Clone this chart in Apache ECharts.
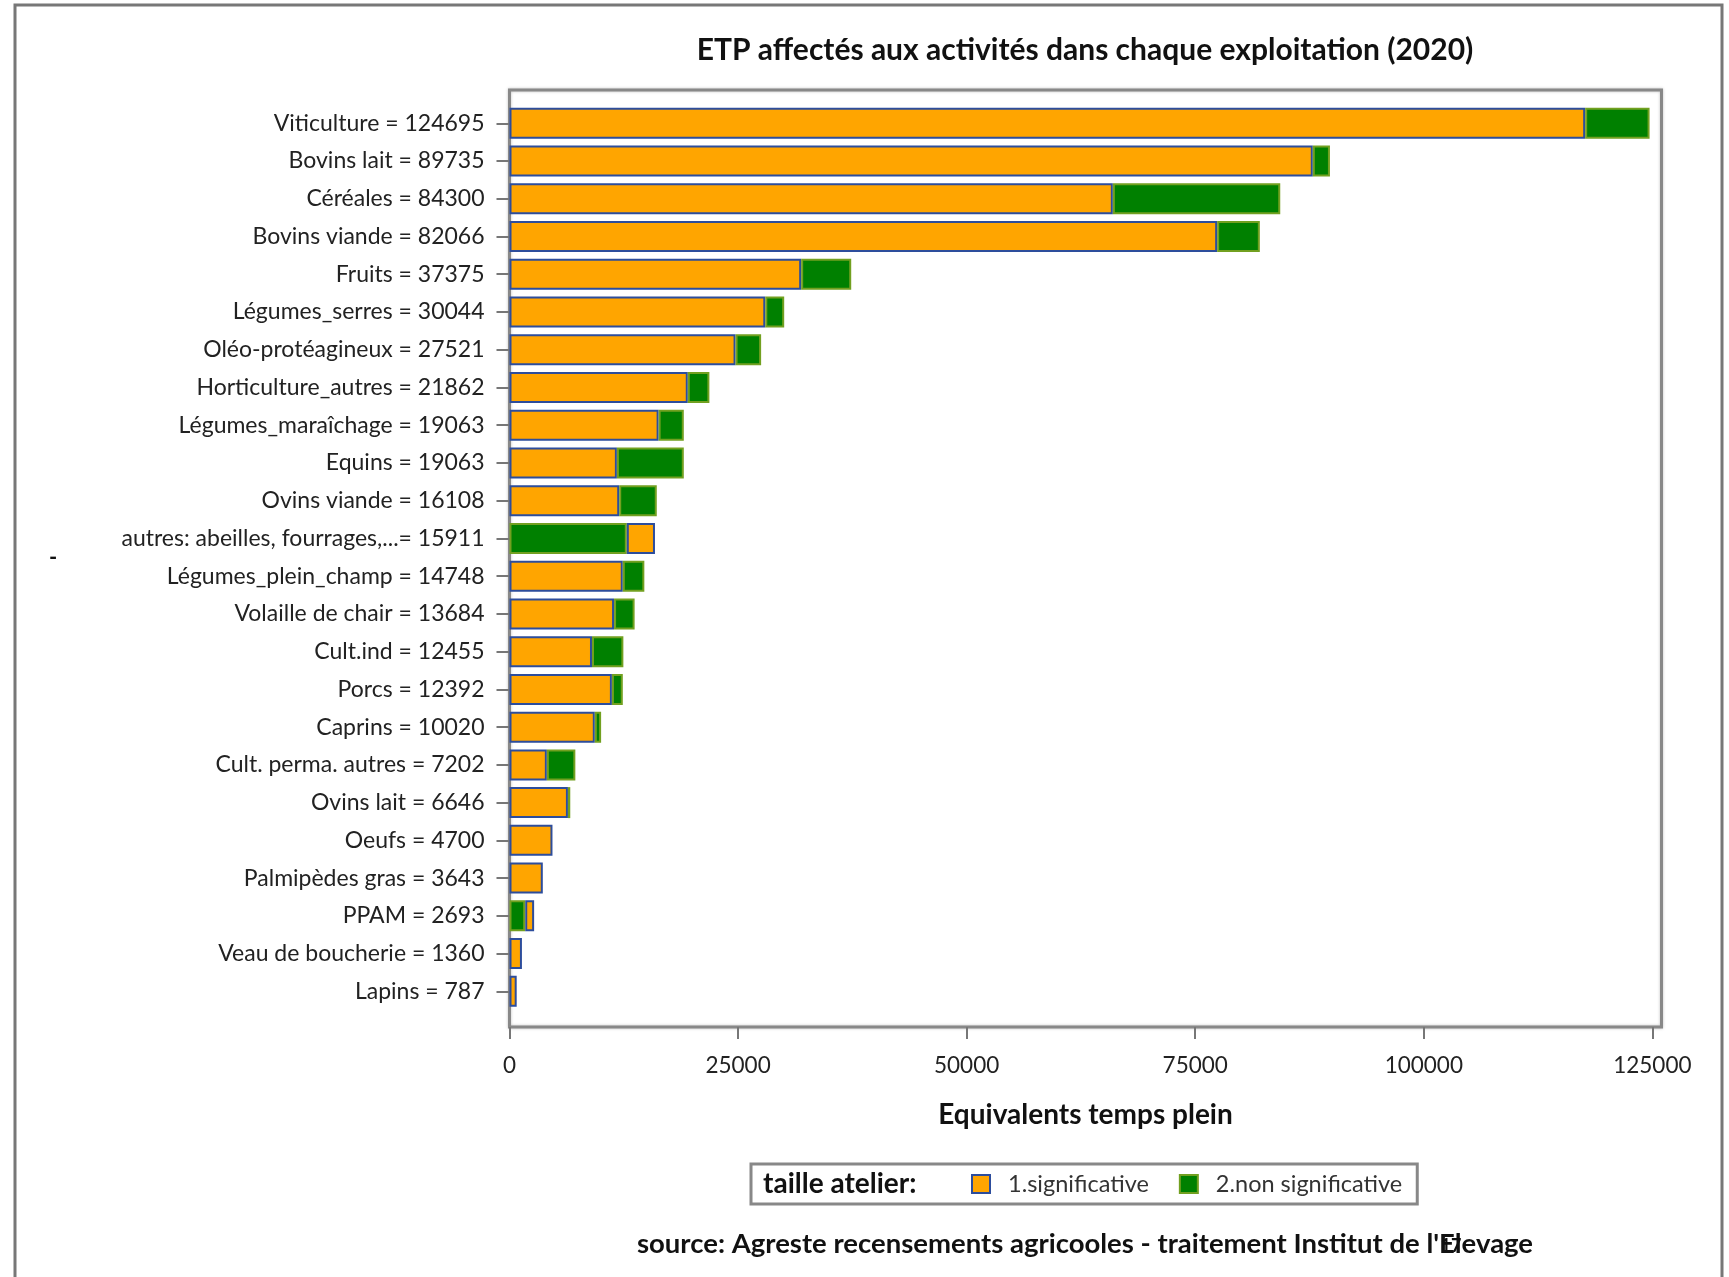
<!DOCTYPE html>
<html>
<head>
<meta charset="utf-8">
<script src="https://cdn.jsdelivr.net/npm/echarts@6/dist/echarts.min.js"></script>
<style>
html,body{margin:0;padding:0;background:#fff;}
#chart{width:1729px;height:1277px;}
</style>
</head>
<body>
<div id="chart"></div>
<script>
// ---- data (top to bottom) ----
const categoryLabels = [
  'Viticulture = 124695', 'Bovins lait = 89735', 'Céréales = 84300', 'Bovins viande = 82066',
  'Fruits = 37375', 'Légumes_serres = 30044', 'Oléo-protéagineux = 27521', 'Horticulture_autres = 21862',
  'Légumes_maraîchage = 19063', 'Equins = 19063', 'Ovins viande = 16108', 'autres: abeilles, fourrages,...= 15911',
  'Légumes_plein_champ = 14748', 'Volaille de chair = 13684', 'Cult.ind = 12455', 'Porcs = 12392',
  'Caprins = 10020', 'Cult. perma. autres = 7202', 'Ovins lait = 6646', 'Oeufs = 4700',
  'Palmipèdes gras = 3643', 'PPAM = 2693', 'Veau de boucherie = 1360', 'Lapins = 787'
];
const significative = [
  117650, 87860, 65990, 77400,
  31900, 27975, 24725, 19500,
  16310, 11745, 12000, 3081,
  12390, 11436, 9022, 11200,
  9330, 4085, 6390, 4700,
  3643, 973, 1360, 787
];
const nonSignificative = [
  7045, 1875, 18310, 4666,
  5475, 2069, 2796, 2362,
  2753, 7318, 4108, 12830,
  2358, 2248, 3433, 1192,
  690, 3117, 256, 0,
  0, 1720, 0, 0
];
// rows where the "non significative" part is drawn first
const greenFirstRows = ['autres: abeilles, fourrages,...= 15911', 'PPAM = 2693'];
const xTicks = [0, 25000, 50000, 75000, 100000, 125000];

const SIG = '1.significative', NON = '2.non significative';
const orangeStyle = {color: '#FFA500', borderColor: '#2d4d9c', borderWidth: 2};
const greenStyle = {color: '#008000', borderColor: '#72a020', borderWidth: 2};
const isGF = categoryLabels.map(c => greenFirstRows.includes(c));

const FONT = 'Lato';
const chart = echarts.init(document.getElementById('chart'));

function barSeries(name, style, data) {
  return {
    name: name, type: 'bar', stack: 'total', xAxisIndex: 1, yAxisIndex: 1,
    barWidth: 31, itemStyle: style, data: data, emphasis: {disabled: true}
  };
}

chart.setOption({
  animation: false,
  backgroundColor: '#fff',
  textStyle: {fontFamily: FONT},
  title: [
    {text: 'ETP affectés aux activités dans chaque exploitation (2020)', left: 1085, top: 35, textAlign: 'center', padding: 0,
     textStyle: {fontFamily: FONT, fontSize: 30, fontWeight: 'bold', color: '#111'}},
    {text: 'taille atelier:', left: 763, top: 1170, padding: 0,
     textStyle: {fontFamily: FONT, fontSize: 28, fontWeight: 'bold', color: '#111'}},
    {text: "source: Agreste recensements agricooles - traitement Institut de l'Elevage", left: 1085, top: 1230, textAlign: 'center', padding: 0,
     textStyle: {fontFamily: FONT, fontSize: 27.5, fontWeight: 'bold', color: '#111'}}
  ],
  legend: {
    left: 751, top: 1164, orient: 'horizontal',
    padding: [8, 15, 8, 220],
    borderColor: '#888', borderWidth: 3,
    itemWidth: 18, itemHeight: 18, itemGap: 30,
    icon: 'rect', selectedMode: false,
    data: [SIG, NON],
    textStyle: {fontFamily: FONT, fontSize: 23.5, color: '#333', padding: [0, 0, 0, 13]}
  },
  grid: [
    {left: 509.5, top: 90, width: 1152, height: 937, show: true, borderColor: '#888', borderWidth: 3,
     shadowColor: 'rgba(0,0,0,0.25)', shadowBlur: 3, containLabel: false},
    {left: 509.5, top: 104.4, width: 1152, height: 905.8, containLabel: false}
  ],
  xAxis: [
    {type: 'value', gridIndex: 0, min: 0, max: 126000, position: 'bottom',
     splitLine: {show: false}, axisLine: {show: false},
     axisTick: {show: true, length: 12, customValues: xTicks, lineStyle: {color: '#777', width: 2}},
     axisLabel: {customValues: xTicks, margin: 27, fontFamily: FONT, fontSize: 22.5, color: '#222', formatter: v => String(v)},
     name: 'Equivalents temps plein', nameLocation: 'middle', nameGap: 74,
     nameTextStyle: {fontFamily: FONT, fontSize: 28, fontWeight: 'bold', color: '#111'}},
    {type: 'value', gridIndex: 1, min: 0, max: 126000, show: false}
  ],
  yAxis: [
    {type: 'value', gridIndex: 0, show: false},
    {type: 'category', gridIndex: 1, inverse: true, data: categoryLabels,
     axisLine: {show: false},
     axisTick: {show: true, alignWithLabel: true, length: 13, lineStyle: {color: '#777', width: 2}},
     axisLabel: {margin: 25, fontFamily: FONT, fontSize: 23, color: '#222'}}
  ],
  series: [
    barSeries(SIG, orangeStyle, significative.map((v, i) => isGF[i] ? '-' : v)),
    barSeries(NON, greenStyle, nonSignificative.map((v, i) => isGF[i] ? v : '-')),
    barSeries(SIG, orangeStyle, significative.map((v, i) => isGF[i] ? v : '-')),
    barSeries(NON, greenStyle, nonSignificative.map((v, i) => (!isGF[i] && v > 0) ? v : '-'))
  ],
  graphic: [
    {type: 'rect', silent: true, shape: {x: 15, y: 5, width: 1707, height: 1400},
     style: {fill: 'none', stroke: '#777', lineWidth: 3}},
    {type: 'text', silent: true, x: 53, y: 558, style: {text: '-', fontFamily: FONT, fontSize: 22, fontWeight: 'bold', fill: '#111', align: 'center', verticalAlign: 'middle'}},
    {type: 'text', silent: true, x: 1451, y: 1246, style: {text: '17', fontFamily: FONT, fontSize: 18, fontWeight: 'bold', fill: '#111', align: 'center', verticalAlign: 'middle'}}
  ]
});
</script>
</body>
</html>
